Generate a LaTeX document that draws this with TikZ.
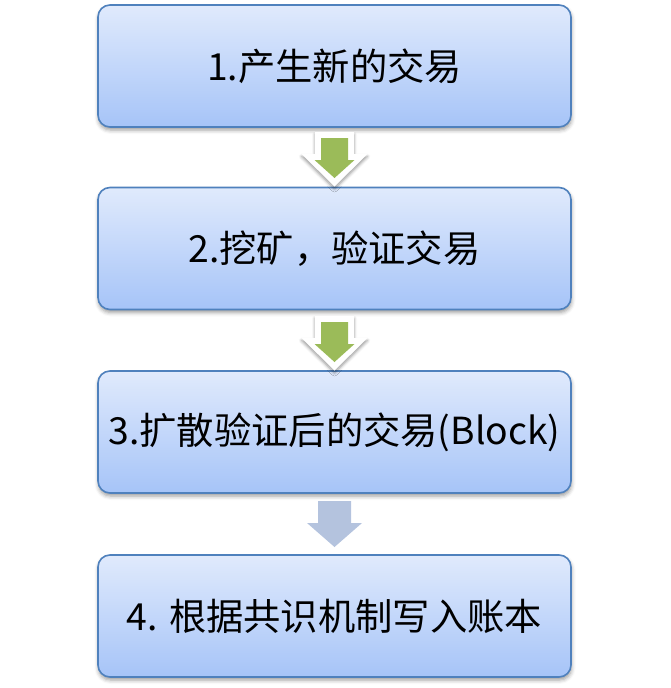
\documentclass[tikz,border=0pt]{standalone}
\usepackage{fontspec}
\newfontfamily\cjk{Noto Sans CJK SC}
\usetikzlibrary{shadows.blur}
\definecolor{boxtop}{HTML}{E0EAFC}
\definecolor{boxbot}{HTML}{A6C4F8}
\definecolor{boxline}{HTML}{4F81BD}
\definecolor{arrgreen}{HTML}{9BBB59}
\definecolor{arrgray}{HTML}{B4C3DE}
\tikzset{
  stepbox/.style={rectangle, rounded corners=12pt, minimum width=473pt, minimum height=122pt,
    draw=boxline, line width=1.6pt, top color=boxtop, bottom color=boxbot,
    blur shadow={shadow xshift=0.5pt, shadow yshift=-3pt, shadow blur radius=4pt, shadow opacity=40},
    font=\cjk\fontsize{37.3}{42}\selectfont, text=black, inner sep=0pt},
  arrowback/.style={fill=white, blur shadow={shadow xshift=0pt, shadow yshift=-2.5pt, shadow blur radius=3pt, shadow opacity=40}},
  arrowgreen/.style={fill=arrgreen},
  arrowgray/.style={fill=arrgray}
}
\begin{document}
\begin{tikzpicture}[x=1pt,y=-1pt]
\useasboundingbox (0,0) rectangle (670,688);
\node[stepbox] (b1) at (334.5,66) {1.产生新的交易};
\node[stepbox] (b2) at (334.5,248.5) {2.挖矿，验证交易};
\node[stepbox] (b3) at (334.5,432) {3.扩散验证后的交易(Block)};
\node[stepbox] (b4) at (334.5,616) {4. 根据共识机制写入账本};
% arrow 1
\path[arrowback] (315,132) -- (354,132) -- (354,154) -- (367.5,154) -- (334.5,186.5) -- (301.5,154) -- (315,154) -- cycle;
\path[arrowgreen] (321,138) -- (348,138) -- (348,160) -- (354.5,160) -- (334.5,178) -- (314.5,160) -- (321,160) -- cycle;
% arrow 2
\path[arrowback] (315,316) -- (354,316) -- (354,338) -- (367.5,338) -- (334.5,370.5) -- (301.5,338) -- (315,338) -- cycle;
\path[arrowgreen] (321,322) -- (348,322) -- (348,344) -- (354.5,344) -- (334.5,362) -- (314.5,344) -- (321,344) -- cycle;
% arrow 3
\path[arrowgray] (318,501) -- (351,501) -- (351,523) -- (362,523) -- (334.5,547) -- (307,523) -- (318,523) -- cycle;
\end{tikzpicture}
\end{document}
